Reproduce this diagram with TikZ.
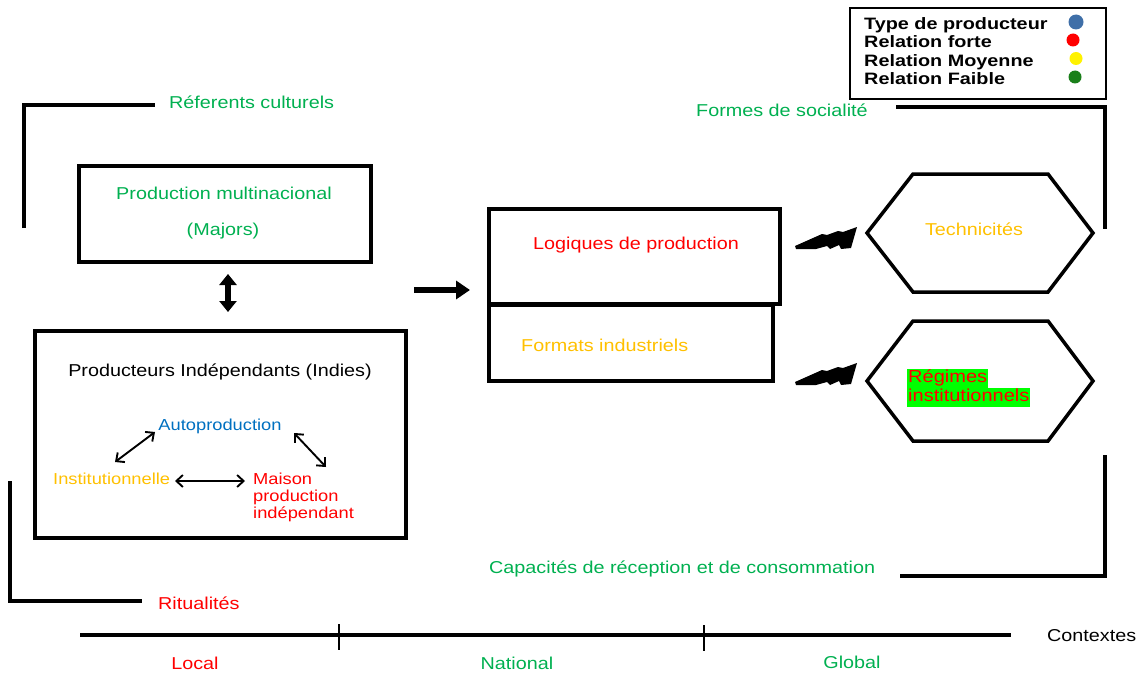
\documentclass[tikz,border=0pt]{standalone}
\usepackage{fontspec}
\setmainfont{Liberation Sans}[FakeStretch=1.15]
\newfontfamily\legfont{Liberation Sans}[FakeStretch=1.2]
\usetikzlibrary{arrows.meta,calc}
\definecolor{tgreen}{HTML}{00B050}
\definecolor{tred}{HTML}{FF0000}
\definecolor{torange}{HTML}{FFC000}
\definecolor{tblue}{HTML}{0070C0}
\definecolor{lblue}{HTML}{3F6FA8}
\definecolor{lgreen}{HTML}{1A7F1A}
\definecolor{hlgreen}{HTML}{00FF00}
\tikzset{
  box/.style={draw, line width=3.5pt, rectangle, inner sep=0pt},
  brk/.style={line width=3.5pt},
  lbl/.style={inner sep=0pt, yshift=-4pt, font=\fontsize{17.2}{19}\selectfont},
  small/.style={inner sep=0pt, yshift=-3.5pt, font=\fontsize{15.9}{17}\selectfont},
  legtxt/.style={inner sep=0pt, yshift=-4pt, anchor=mid west, font=\legfont\fontsize{16.5}{19}\selectfont\bfseries},
  hl/.style={inner sep=1pt, fill=hlgreen, text=tred, anchor=mid west, yshift=-4pt, font=\fontsize{17.4}{19}\selectfont, text depth=4pt, text height=13pt},
  dot/.style={circle, inner sep=0pt, minimum size=13pt},
  thin2/.style={line width=1.9pt, {Straight Barb[length=6.5pt,width=12pt,line width=1.9pt]}-{Straight Barb[length=6.5pt,width=12pt,line width=1.9pt]}},
  hexa/.style={line width=3.5pt, line join=miter},
  bolt/.style={fill=black},
}
\begin{document}
\begin{tikzpicture}[x=1pt,y=-1pt]
\useasboundingbox (0,0) rectangle (1144,677);

% legend
\node[draw, line width=2.3pt, minimum width=256pt, minimum height=91pt, inner sep=0pt] (legend) at (978,53.5) {};
\node[legtxt] (lg1) at (864,23) {Type de producteur};
\node[legtxt] (lg2) at (864,41) {Relation forte};
\node[legtxt] (lg3) at (864,60) {Relation Moyenne};
\node[legtxt] (lg4) at (864,78) {Relation Faible};
\node[dot, fill=lblue, minimum width=15pt] (d1) at (1076,22) {};
\node[dot, fill=red] (d2) at (1073,40) {};
\node[dot, fill=yellow] (d3) at (1076,58.5) {};
\node[dot, fill=lgreen] (d4) at (1075,77) {};

% top-left bracket
\draw[brk] (24,228) -- (24,105) -- (155,105);
\node[lbl, text=tgreen, anchor=mid west] (ref) at (169,102) {Réferents culturels};

% majors
\node[box, minimum width=292pt, minimum height=96pt] (majors) at (225,214) {};
\node[lbl, text=tgreen] (maj1) at (224,189) {Production multinacional};
\node[lbl, text=tgreen] (maj2) at (223,227) {(Majors)};

% indies
\node[box, minimum width=371pt, minimum height=207pt] (indies) at (220.5,434.5) {};
\node[lbl, anchor=mid] (indt) at (220,370) {Producteurs Indépendants (Indies)};
\node[small, text=tblue, anchor=mid] (auto) at (220,424) {Autoproduction};
\node[small, text=torange, anchor=mid west] (inst) at (53,478) {Institutionnelle};
\node[small, text=tred, anchor=north west, align=left] (maison) at (253,469) {Maison\\production\\indépendant};
\coordinate (i1) at (115,462); \coordinate (a1) at (155,432);
\coordinate (a2) at (294,433); \coordinate (m1) at (326,467);
\coordinate (i2) at (175,481); \coordinate (m2) at (245,481);
\draw[thin2] (i1) -- (a1);
\draw[thin2] (a2) -- (m1);
\draw[thin2] (i2) -- (m2);

% vertical double arrow
\coordinate (v1) at (228,274); \coordinate (v2) at (228,312);
\draw[line width=5.5pt, {Triangle[length=11pt,width=17pt]}-{Triangle[length=11pt,width=17pt]}] (v1) -- (v2);

% right arrow
\coordinate (h1) at (414,290); \coordinate (h2) at (470,290);
\draw[line width=6pt, -{Triangle[length=14pt,width=18pt]}] (h1) -- (h2);

% logiques / formats
\node[box, minimum width=291pt, minimum height=95pt] (logiq) at (634.5,256.5) {};
\node[box, minimum width=284pt, minimum height=76pt] (formats) at (631,343) {};
\node[lbl, text=tred, anchor=mid] (logt) at (636,243) {Logiques de production};
\node[lbl, text=torange, anchor=mid west] (fort) at (521,345) {Formats industriels};

% bolts
\foreach \dy/\nm in {0/b1,136/b2}{
  \fill[bolt] ($(795,246)+(0,\dy)$) -- ($(822,234)+(0,\dy)$) -- ($(827,235)+(0,\dy)$) -- ($(838,231)+(0,\dy)$) -- ($(843,232)+(0,\dy)$) -- ($(857,227)+(0,\dy)$) -- ($(851,248)+(0,\dy)$) -- ($(841,249)+(0,\dy)$) -- ($(839,245)+(0,\dy)$) -- ($(830,249)+(0,\dy)$) -- ($(827,246)+(0,\dy)$) -- ($(816,249)+(0,\dy)$) -- ($(796,249)+(0,\dy)$) -- cycle;
}

% hexagons
\draw[hexa] (867,233) -- (913,174) -- (1048,174) -- (1093,233) -- (1048,292) -- (913,292) -- cycle;
\draw[hexa] (867,381) -- (913,321) -- (1048,321) -- (1093,381) -- (1048,441) -- (913,441) -- cycle;
\node[lbl, text=torange, anchor=mid] (tech) at (974,229) {Technicités};
\node[hl] (reg1) at (907,376) {Régimes};
\node[hl] (reg2) at (907,395) {institutionnels};

% right brackets
\draw[brk] (896,107) -- (1105,107) -- (1105,229);
\node[lbl, text=tgreen, anchor=mid west] (formes) at (696,110) {Formes de socialité};
\draw[brk] (1105,455) -- (1105,576) -- (900,576);
\node[lbl, text=tgreen, anchor=mid west] (capac) at (489,567) {Capacités de réception et de consommation};

% bottom-left bracket
\draw[brk] (10,481) -- (10,601) -- (142,601);
\node[lbl, text=tred, anchor=mid west] (ritu) at (158,603) {Ritualités};

% axis
\coordinate (ax0) at (80,635); \coordinate (ax1) at (1011,635);
\draw[line width=3.5pt] (ax0) -- (ax1);
\draw[line width=2.5pt] (339,624) -- (339,650);
\draw[line width=2.5pt] (704,625) -- (704,651);
\node[lbl, anchor=mid west] (ctx) at (1047,635) {Contextes};
\node[lbl, text=tred, anchor=mid] (local) at (195,663) {Local};
\node[lbl, text=tgreen, anchor=mid] (natl) at (517,663) {National};
\node[lbl, text=tgreen, anchor=mid] (glob) at (852,662) {Global};
\end{tikzpicture}
\end{document}
